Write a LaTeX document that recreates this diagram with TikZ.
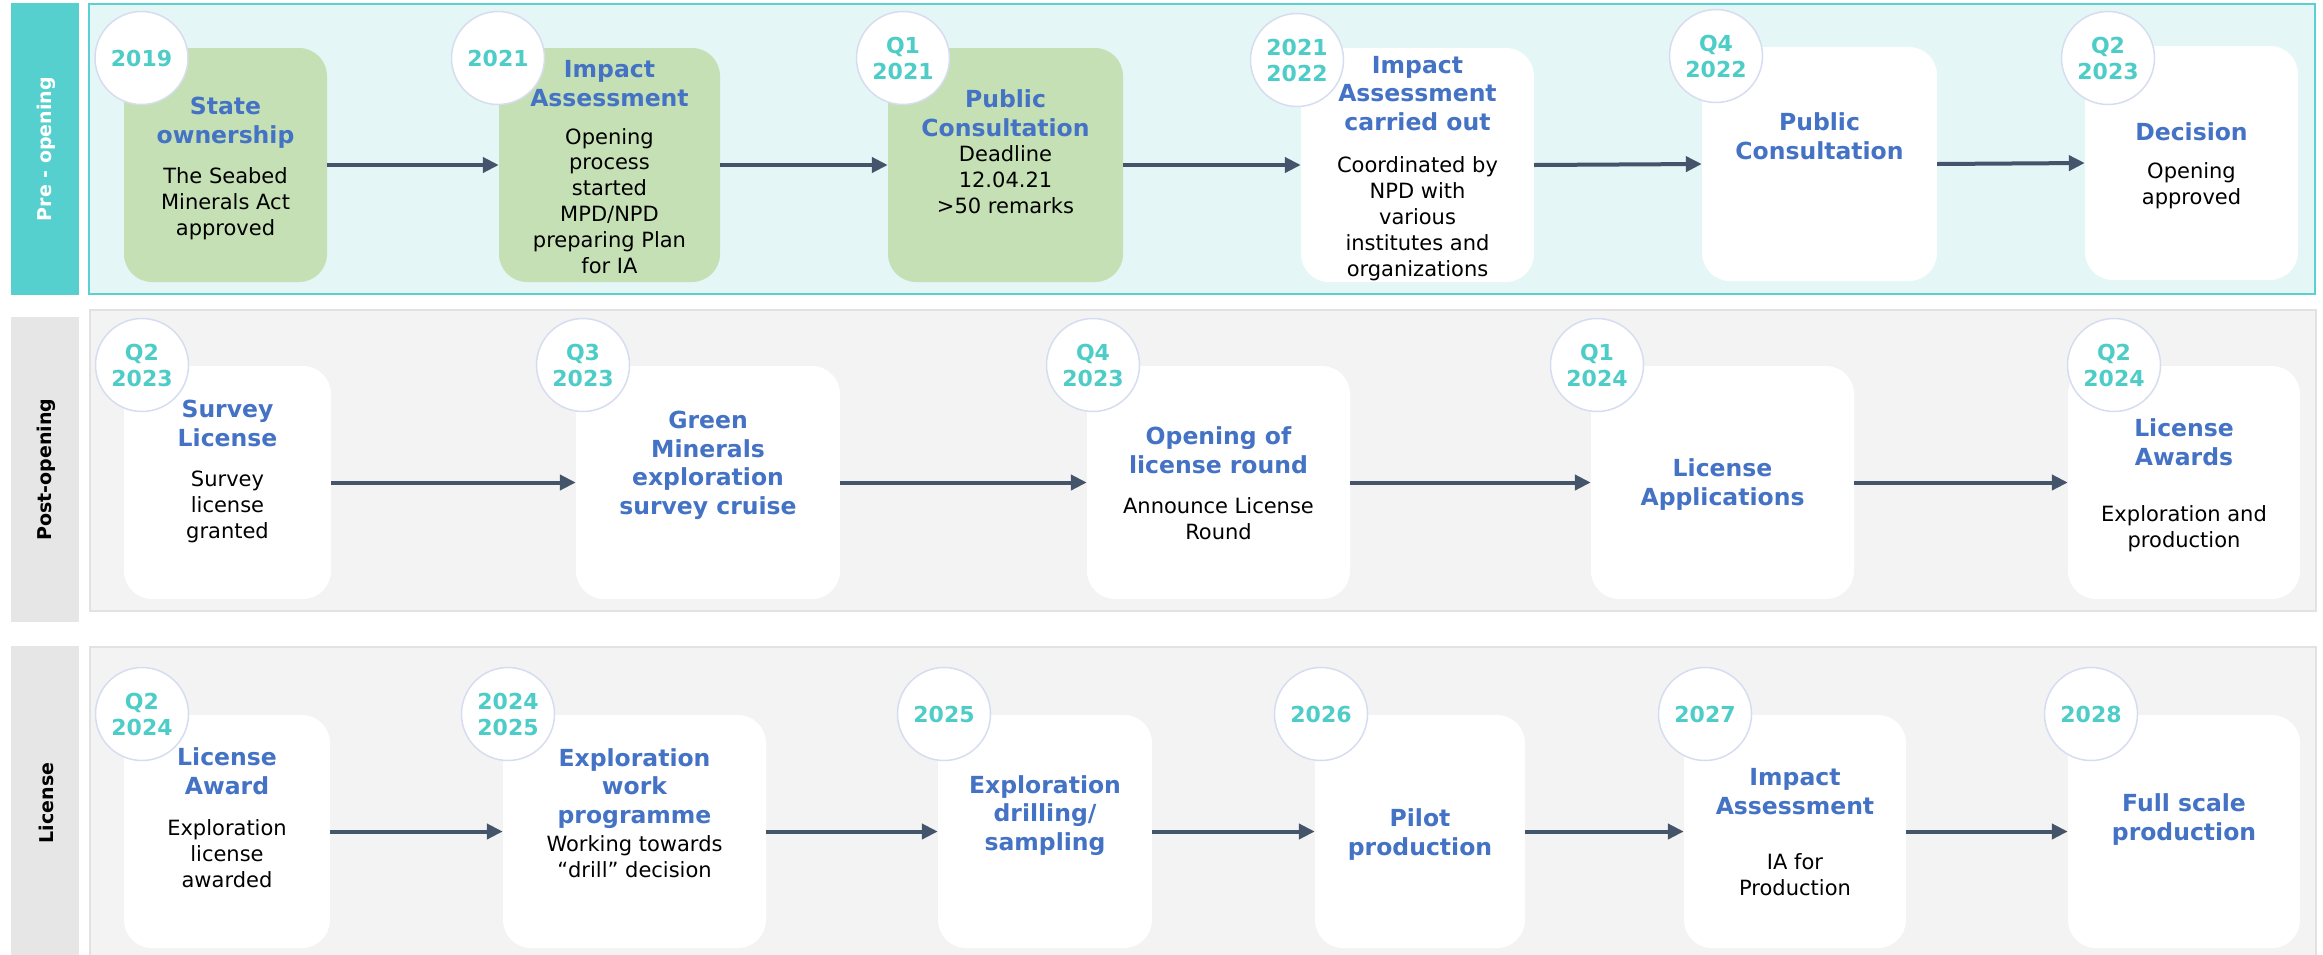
\documentclass[tikz,border=0pt]{standalone}
\usepackage{fontspec}
\setmainfont{DejaVu Sans}
\usetikzlibrary{arrows.meta}

\definecolor{bandteal}{HTML}{56D0CE}
\definecolor{panelcyan}{HTML}{E4F6F6}
\definecolor{panelteal}{HTML}{5BD0CE}
\definecolor{bandgray}{HTML}{E6E6E6}
\definecolor{panelgray}{HTML}{F3F3F3}
\definecolor{panelline}{HTML}{E2E2E2}
\definecolor{boxgreen}{HTML}{C5E0B4}
\definecolor{ttlblue}{HTML}{4472C4}
\definecolor{yeartxt}{HTML}{4ECDC8}
\definecolor{ringcol}{HTML}{D6DDF0}
\definecolor{arrowcol}{HTML}{44546A}

% text nodes are placed by the baseline of their last line
\tikzset{
  stepbox/.style={draw=none, rounded corners=28pt, inner sep=0pt, minimum height=233pt},
  greenbox/.style={stepbox, fill=boxgreen},
  whitebox/.style={stepbox, fill=white},
  yearmark/.style={circle, fill=white, draw=ringcol, line width=1.5pt,
    minimum size=93pt, inner sep=0pt, align=center, text=yeartxt,
    font=\fontsize{22}{26}\selectfont\bfseries},
  ttl/.style={anchor=base, align=center, inner sep=0pt, text=ttlblue,
    font=\fontsize{23.5}{28.5}\selectfont\bfseries},
  bdy/.style={anchor=base, align=center, inner sep=0pt, text=black,
    font=\fontsize{21}{25.8}\selectfont},
  flow/.style={draw=arrowcol, line width=4pt, -{Triangle[length=16pt,width=15pt]}},
  bandlabel/.style={rotate=90, inner sep=0pt, font=\fontsize{19}{22}\selectfont\bfseries},
}

\begin{document}
\begin{tikzpicture}[x=1pt, y=-1pt]
\useasboundingbox (0,0) rectangle (2323,954);
\clip (0,0) rectangle (2323,954);

% ---------- swimlanes ----------
\fill[bandteal] (11,3) rectangle (79,295);
\filldraw[fill=panelcyan, draw=panelteal, line width=2pt] (89,4) rectangle (2315,294);
\node[bandlabel, text=white] (lane1) at (46,149) {Pre - opening};

\fill[bandgray] (11,317) rectangle (79,622);
\filldraw[fill=panelgray, draw=panelline, line width=2pt] (90,310) rectangle (2316,611);
\node[bandlabel, text=black] (lane2) at (46,469.5) {Post-opening};

\fill[bandgray] (11,646) rectangle (79,960);
\filldraw[fill=panelgray, draw=panelline, line width=2pt] (90,647) rectangle (2316,970);
\node[bandlabel, text=black] (lane3) at (46,803) {License};

% ---------- row 1: pre-opening ----------
\node[greenbox, minimum width=203pt, minimum height=234pt] (a1) at (225.5,165) {};
\node[greenbox, minimum width=221pt, minimum height=234pt] (a2) at (609.5,165) {};
\node[greenbox, minimum width=235pt, minimum height=234pt] (a3) at (1005.5,165) {};
\node[whitebox, minimum width=233pt, minimum height=234pt] (a4) at (1417.5,165) {};
\node[whitebox, minimum width=235pt, minimum height=234pt] (a5) at (1819.5,164) {};
\node[whitebox, minimum width=213pt, minimum height=234pt] (a6) at (2191.5,163) {};

\draw[flow] (a1.east) -- (a2.west);
\draw[flow] (a2.east) -- (a3.west);
\draw[flow] (a3.east) -- (a4.west);
\draw[flow] (a4.east) -- (a5.west);
\draw[flow] (a5.east) -- (a6.west);

\node[ttl] (a1t) at (225.5,143) {State\\ownership};
\node[bdy] (a1d) at (225.5,235) {The Seabed\\Minerals Act\\approved};
\node[ttl] (a2t) at (609.5,106) {Impact\\Assessment};
\node[bdy] (a2d) at (609.5,273) {Opening\\process\\started\\MPD/NPD\\preparing Plan\\for IA};
\node[ttl] (a3t) at (1005.5,136) {Public\\Consultation};
\node[bdy] (a3d) at (1005.5,213) {Deadline\\12.04.21\\>50 remarks};
\node[ttl] (a4t) at (1417.5,130) {Impact\\Assessment\\carried out};
\node[bdy] (a4d) at (1417.5,276) {Coordinated by\\NPD with\\various\\institutes and\\organizations};
\node[ttl] (a5t) at (1819.5,159) {Public\\Consultation};
\node[ttl] (a6t) at (2191.5,140) {Decision};
\node[bdy] (a6d) at (2191.5,204) {Opening\\approved};

\node[yearmark] (a1y) at (141.5,58) {2019};
\node[yearmark] (a2y) at (498,58) {2021};
\node[yearmark] (a3y) at (903,58) {Q1\\2021};
\node[yearmark] (a4y) at (1297,60) {2021\\2022};
\node[yearmark] (a5y) at (1716,56) {Q4\\2022};
\node[yearmark] (a6y) at (2108,58) {Q2\\2023};

% ---------- row 2: post-opening ----------
\node[whitebox, minimum width=207pt] (b1) at (227.5,482.5) {};
\node[whitebox, minimum width=264pt] (b2) at (708,482.5) {};
\node[whitebox, minimum width=263pt] (b3) at (1218.5,482.5) {};
\node[whitebox, minimum width=263pt] (b4) at (1722.5,482.5) {};
\node[whitebox, minimum width=232pt] (b5) at (2184,482.5) {};

\draw[flow] (b1.east) -- (b2.west);
\draw[flow] (b2.east) -- (b3.west);
\draw[flow] (b3.east) -- (b4.west);
\draw[flow] (b4.east) -- (b5.west);

\node[ttl] (b1t) at (227.5,446) {Survey\\License};
\node[bdy] (b1d) at (227.5,538) {Survey\\license\\granted};
\node[ttl] (b2t) at (708,514) {Green\\Minerals\\exploration\\survey cruise};
\node[ttl] (b3t) at (1218.5,473) {Opening of\\license round};
\node[bdy] (b3d) at (1218.5,539) {Announce License\\Round};
\node[ttl] (b4t) at (1722.5,505) {License\\Applications};
\node[ttl] (b5t) at (2184,465) {License\\Awards};
\node[bdy] (b5d) at (2184,547) {Exploration and\\production};

\node[yearmark] (b1y) at (142,365) {Q2\\2023};
\node[yearmark] (b2y) at (583,365) {Q3\\2023};
\node[yearmark] (b3y) at (1093,365) {Q4\\2023};
\node[yearmark] (b4y) at (1597,365) {Q1\\2024};
\node[yearmark] (b5y) at (2114,365) {Q2\\2024};

% ---------- row 3: license ----------
\node[whitebox, minimum width=206pt] (c1) at (227,831.5) {};
\node[whitebox, minimum width=263pt] (c2) at (634.5,831.5) {};
\node[whitebox, minimum width=214pt] (c3) at (1045,831.5) {};
\node[whitebox, minimum width=210pt] (c4) at (1420,831.5) {};
\node[whitebox, minimum width=222pt] (c5) at (1795,831.5) {};
\node[whitebox, minimum width=232pt] (c6) at (2184,831.5) {};

\draw[flow] (c1.east) -- (c2.west);
\draw[flow] (c2.east) -- (c3.west);
\draw[flow] (c3.east) -- (c4.west);
\draw[flow] (c4.east) -- (c5.west);
\draw[flow] (c5.east) -- (c6.west);

\node[ttl] (c1t) at (227,794) {License\\Award};
\node[bdy] (c1d) at (227,887) {Exploration\\license\\awarded};
\node[ttl] (c2t) at (634.5,823) {Exploration\\work\\programme};
\node[bdy] (c2d) at (634.5,877) {Working towards\\“drill” decision};
\node[ttl] (c3t) at (1045,850) {Exploration\\drilling/\\sampling};
\node[ttl] (c4t) at (1420,855) {Pilot\\production};
\node[ttl] (c5t) at (1795,814) {Impact\\Assessment};
\node[bdy] (c5d) at (1795,895) {IA for\\Production};
\node[ttl] (c6t) at (2184,840) {Full scale\\production};

\node[yearmark] (c1y) at (142,714) {Q2\\2024};
\node[yearmark] (c2y) at (508,714) {2024\\2025};
\node[yearmark] (c3y) at (944,714) {2025};
\node[yearmark] (c4y) at (1321,714) {2026};
\node[yearmark] (c5y) at (1705,714) {2027};
\node[yearmark] (c6y) at (2091,714) {2028};
\end{tikzpicture}
\end{document}
